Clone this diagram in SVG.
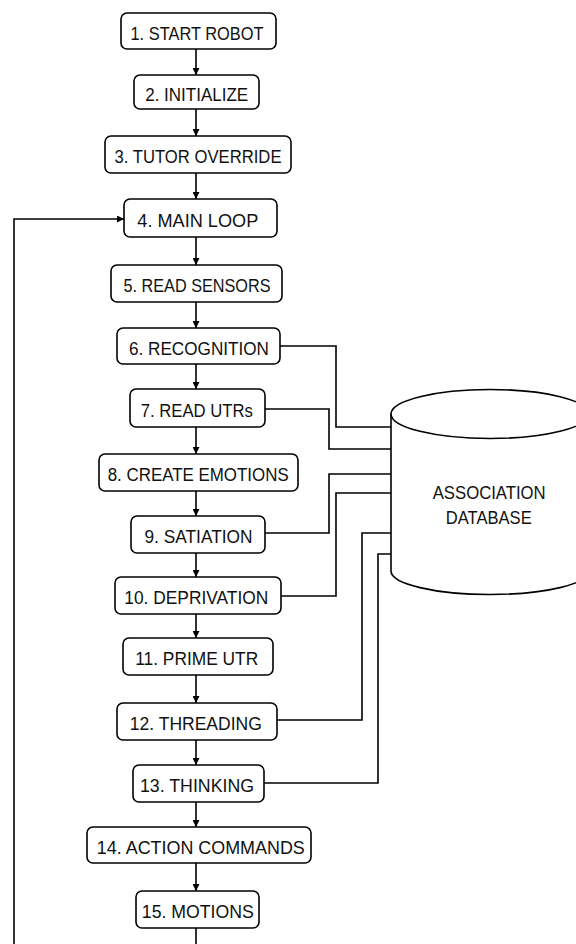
<svg xmlns="http://www.w3.org/2000/svg" width="576" height="944" viewBox="0 0 576 944">
<style>
.box{fill:#fff;stroke:#000;stroke-width:1.6}
.lbl{font-family:"Liberation Sans",Arial,sans-serif;font-size:18px;fill:#111;text-anchor:middle}
.ln{fill:none;stroke:#000;stroke-width:1.6}
</style>
<defs>
<marker id="ah" viewBox="0 0 10 10" refX="10" refY="5" markerWidth="7" markerHeight="7" markerUnits="userSpaceOnUse" orient="auto">
<path d="M0,0 L10,5 L0,10 Z" fill="#000"/>
</marker>
</defs>
<g id="connectors">
<line class="ln" x1="196" y1="49" x2="196" y2="75" marker-end="url(#ah)"/>
<line class="ln" x1="196" y1="109" x2="196" y2="136" marker-end="url(#ah)"/>
<line class="ln" x1="196" y1="173" x2="196" y2="199" marker-end="url(#ah)"/>
<line class="ln" x1="196" y1="237" x2="196" y2="265" marker-end="url(#ah)"/>
<line class="ln" x1="196" y1="302" x2="196" y2="328" marker-end="url(#ah)"/>
<line class="ln" x1="196" y1="364" x2="196" y2="389" marker-end="url(#ah)"/>
<line class="ln" x1="196" y1="427" x2="196" y2="454" marker-end="url(#ah)"/>
<line class="ln" x1="196" y1="491" x2="196" y2="516" marker-end="url(#ah)"/>
<line class="ln" x1="196" y1="553" x2="196" y2="577" marker-end="url(#ah)"/>
<line class="ln" x1="196" y1="614" x2="196" y2="638" marker-end="url(#ah)"/>
<line class="ln" x1="196" y1="675" x2="196" y2="703" marker-end="url(#ah)"/>
<line class="ln" x1="196" y1="740" x2="196" y2="765" marker-end="url(#ah)"/>
<line class="ln" x1="196" y1="802" x2="196" y2="827" marker-end="url(#ah)"/>
<line class="ln" x1="196" y1="863" x2="196" y2="891" marker-end="url(#ah)"/>
<line class="ln" x1="196" y1="928" x2="196" y2="944"/>
<path class="ln" d="M14,944 V219 H124" marker-end="url(#ah)"/>
<path class="ln" d="M280,346 H336 V427 H391"/>
<path class="ln" d="M265,409 H329 V449 H391"/>
<path class="ln" d="M265,533 H329 V474 H391"/>
<path class="ln" d="M281,596 H336 V493 H391"/>
<path class="ln" d="M277,720 H362 V533 H391"/>
<path class="ln" d="M264,783 H378 V554 H391"/>
</g>
<g id="n1"><rect class="box" x="121" y="13" width="155" height="36" rx="6"/><text class="lbl" x="197" y="39.5" textLength="133" lengthAdjust="spacingAndGlyphs">1. START ROBOT</text></g>
<g id="n2"><rect class="box" x="134" y="75" width="125" height="34" rx="6"/><text class="lbl" x="196.7" y="100.5" textLength="103" lengthAdjust="spacingAndGlyphs">2. INITIALIZE</text></g>
<g id="n3"><rect class="box" x="105" y="136" width="186" height="37" rx="6"/><text class="lbl" x="198" y="163" textLength="167" lengthAdjust="spacingAndGlyphs">3. TUTOR OVERRIDE</text></g>
<g id="n4"><rect class="box" x="124" y="199" width="153" height="38" rx="6"/><text class="lbl" x="197.8" y="226.5" textLength="121" lengthAdjust="spacingAndGlyphs">4. MAIN LOOP</text></g>
<g id="n5"><rect class="box" x="111" y="265" width="171" height="37" rx="6"/><text class="lbl" x="197" y="292" textLength="147" lengthAdjust="spacingAndGlyphs">5. READ SENSORS</text></g>
<g id="n6"><rect class="box" x="117" y="328" width="163" height="36" rx="6"/><text class="lbl" x="199" y="354.5" textLength="140" lengthAdjust="spacingAndGlyphs">6. RECOGNITION</text></g>
<g id="n7"><rect class="box" x="130" y="389" width="135" height="38" rx="6"/><text class="lbl" x="196.8" y="416.5" textLength="112" lengthAdjust="spacingAndGlyphs">7. READ UTRs</text></g>
<g id="n8"><rect class="box" x="99" y="454" width="199" height="37" rx="6"/><text class="lbl" x="198.2" y="481" textLength="181" lengthAdjust="spacingAndGlyphs">8. CREATE EMOTIONS</text></g>
<g id="n9"><rect class="box" x="131" y="516" width="134" height="37" rx="6"/><text class="lbl" x="198.5" y="543" textLength="108" lengthAdjust="spacingAndGlyphs">9. SATIATION</text></g>
<g id="n10"><rect class="box" x="115" y="577" width="166" height="37" rx="6"/><text class="lbl" x="196.3" y="604" textLength="144" lengthAdjust="spacingAndGlyphs">10. DEPRIVATION</text></g>
<g id="n11"><rect class="box" x="123" y="638" width="150" height="37" rx="6"/><text class="lbl" x="196.7" y="665" textLength="123" lengthAdjust="spacingAndGlyphs">11. PRIME UTR</text></g>
<g id="n12"><rect class="box" x="117" y="703" width="160" height="37" rx="6"/><text class="lbl" x="195.8" y="730" textLength="132" lengthAdjust="spacingAndGlyphs">12. THREADING</text></g>
<g id="n13"><rect class="box" x="133" y="765" width="131" height="37" rx="6"/><text class="lbl" x="197" y="792" textLength="114" lengthAdjust="spacingAndGlyphs">13. THINKING</text></g>
<g id="n14"><rect class="box" x="87" y="827" width="224" height="36" rx="6"/><text class="lbl" x="200.8" y="853.5" textLength="208" lengthAdjust="spacingAndGlyphs">14. ACTION COMMANDS</text></g>
<g id="n15"><rect class="box" x="136" y="891" width="123" height="37" rx="6"/><text class="lbl" x="197.8" y="918" textLength="112" lengthAdjust="spacingAndGlyphs">15. MOTIONS</text></g>
<g id="db">
<path class="box" d="M391,414 V571 A99,23.5 0 0 0 589,571 V414 Z"/>
<ellipse class="box" cx="490" cy="414" rx="99" ry="24.5"/>
<text class="lbl" x="489.2" y="499" textLength="113" lengthAdjust="spacingAndGlyphs">ASSOCIATION</text>
<text class="lbl" x="488.7" y="524" textLength="86" lengthAdjust="spacingAndGlyphs">DATABASE</text>
</g>
</svg>
